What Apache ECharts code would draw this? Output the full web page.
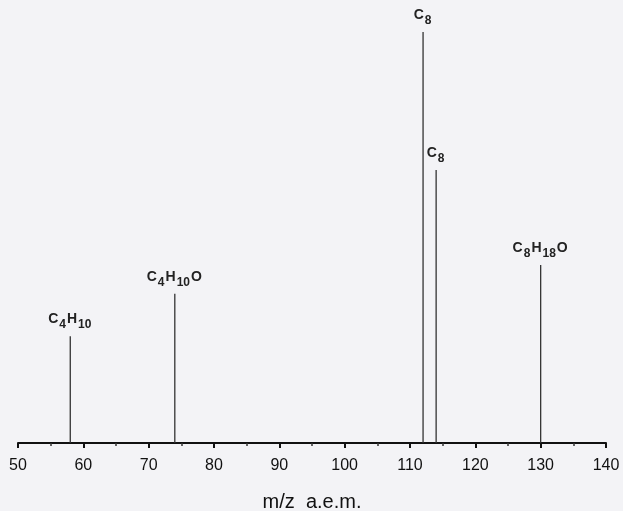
<!DOCTYPE html>
<html>
<head>
<meta charset="utf-8">
<script src="https://cdn.jsdelivr.net/npm/echarts@6/dist/echarts.min.js"></script>
<style>
  html, body { margin: 0; padding: 0; background: #f3f3f6; }
  #chart { width: 623px; height: 511px; }
</style>
</head>
<body>
<div id="chart"></div>
<script>
// peaks of the mass spectrum
const mz = [58, 74, 112, 114, 130];
const intensity = [26, 36.3, 100, 66.4, 43.3];
// fragment labels: [formula pieces], "s" marks a subscript piece
const fragments = [
  [["C", "b"], ["4", "s"], ["H", "b"], ["10", "s"]],
  [["C", "b"], ["4", "s"], ["H", "b"], ["10", "s"], ["O", "b"]],
  [["C", "b"], ["8", "s"]],
  [["C", "b"], ["8", "s"]],
  [["C", "b"], ["8", "s"], ["H", "b"], ["18", "s"], ["O", "b"]],
];
const xTicks = { min: 50, max: 140, interval: 10 };

const chart = echarts.init(document.getElementById("chart"));

const data = mz.map((m, i) => ({
  value: [m, intensity[i]],
  label: {
    formatter: fragments[i].map(([t, k]) => `{${k}|${t}}`).join(""),
  },
}));

chart.setOption({
  backgroundColor: "#f3f3f6",
  animation: false,
  textStyle: { fontFamily: "Liberation Sans, Arial, sans-serif" },
  grid: { left: 18, right: 17, top: 32, bottom: 68, outerBoundsMode: "none", containLabel: false },
  xAxis: {
    type: "value",
    ...xTicks,
    name: "m/z  a.e.m.",
    nameLocation: "middle",
    nameGap: 49,
    nameTextStyle: { fontSize: 20, color: "#111" },
    axisLine: { show: true, onZero: false, lineStyle: { color: "#111", width: 2 } },
    axisTick: { show: true, length: 5, lineStyle: { color: "#111", width: 2 } },
    minorTick: { show: true, splitNumber: 2, length: 3, lineStyle: { color: "#333", width: 1.5 } },
    axisLabel: { fontSize: 16, color: "#111", margin: 15 },
    splitLine: { show: false },
  },
  yAxis: {
    type: "value",
    min: 0,
    max: 100,
    show: false,
  },
  series: [
    {
      type: "bar",
      data,
      barWidth: 1.3,
      itemStyle: { color: "#333" },
      label: {
        show: true,
        position: "top",
        distance: 5,
        rich: {
          b: { fontSize: 14, fontWeight: "bold", color: "#222", verticalAlign: "bottom", padding: [0, 1, 5, 0] },
          s: { fontSize: 12, fontWeight: "bold", color: "#222", verticalAlign: "bottom", padding: [0, 1, 0, 0] },
        },
      },
    },
  ],
});
</script>
</body>
</html>
